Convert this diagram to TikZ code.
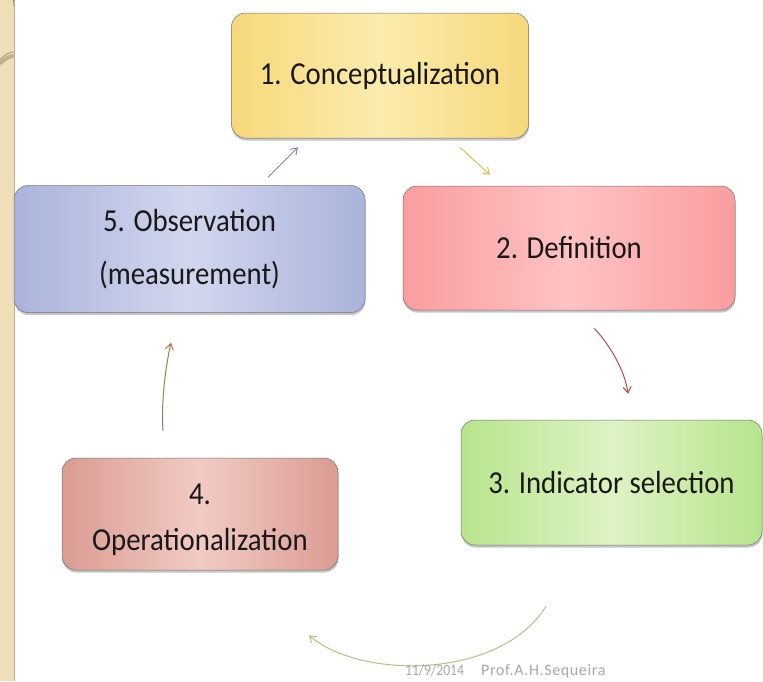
\documentclass[tikz,border=0pt]{standalone}
\usepackage{fontspec}
\setmainfont{Carlito}
\newfontfamily\boxfont[FakeStretch=0.9]{Carlito}
\newfontfamily\footfont[FakeStretch=0.85]{Carlito}
\newfontfamily\footwide[LetterSpace=4]{Carlito}
\usetikzlibrary{arrows.meta,shadows,calc}

\definecolor{stripbg}{HTML}{EFDFB8}
\definecolor{stripline}{HTML}{C2B188}
\definecolor{yelE}{HTML}{F7D87C}
\definecolor{yelM}{HTML}{FBECAC}
\definecolor{redE}{HTML}{FA9D9F}
\definecolor{redM}{HTML}{FFC2C3}
\definecolor{grnE}{HTML}{B8E48D}
\definecolor{grnM}{HTML}{DDF3C4}
\definecolor{salE}{HTML}{DA9C93}
\definecolor{salM}{HTML}{F2CBC4}
\definecolor{bluE}{HTML}{AAB3DB}
\definecolor{bluM}{HTML}{D2D7EE}
\definecolor{arrBlue}{HTML}{7D86B5}
\definecolor{arrYel}{HTML}{E9BD4C}
\definecolor{arrRed}{HTML}{C4474C}
\definecolor{arrGrn}{HTML}{AFC47C}
\definecolor{arrBrn}{HTML}{A7764F}
\definecolor{foot}{HTML}{A8A8A8}

\tikzset{
  stagebox/.style={rectangle, rounded corners=14pt, draw=black!55, line width=0.5pt,
    align=center, inner sep=0pt, text=black!90,
    font=\boxfont\fontsize{32}{53}\selectfont,
    drop shadow={shadow xshift=0.5pt, shadow yshift=-2.5pt, opacity=0.45}},
  stagetext/.style={align=center, inner sep=0pt, text=black!90},
  flow/.style={line width=1pt, -{Straight Barb[length=6pt,width=8pt]}},
  footer/.style={text=foot, anchor=base west, inner sep=0pt},
}

\begin{document}
\begin{tikzpicture}[x=1pt,y=-1pt]
\useasboundingbox (0,0) rectangle (763,681);
\fill[white] (0,0) rectangle (763,681);

% decorative side strip
\fill[stripbg] (0,0) rectangle (14,681);
\begin{scope}
  \clip (0,0) rectangle (14,681);
  \draw[stripline!80!black, line width=1pt] (14,6) arc[start angle=0, end angle=-60, radius=30];
  \draw[stripline, line width=4pt] (0,64) .. controls (5,58) and (10,56) .. (14,56);
  \draw[stripline!90!black, line width=1pt] (0,60) .. controls (5,54) and (10,52) .. (14,52);
\end{scope}
\draw[stripline, line width=1.5pt] (14.5,0) -- (14.5,681);

% stages
\node[stagebox, minimum width=297pt, minimum height=125pt,
      left color=yelE, right color=yelE, middle color=yelM] (b1) at (380,75.5)
      {1. Conceptualization};
\node[stagebox, minimum width=332pt, minimum height=124pt,
      left color=redE, right color=redE, middle color=redM] (b2) at (569,248)
      {2. Definition};
\node[stagebox, minimum width=301pt, minimum height=125pt,
      left color=grnE, right color=grnE, middle color=grnM] (b3) at (611.5,482.5)
      {3. Indicator selection};
\node[stagebox, minimum width=276pt, minimum height=112pt,
      left color=salE, right color=salE, middle color=salM] (b4) at (200,514) {};
\node[stagetext, font=\boxfont\fontsize{32}{46}\selectfont] (b4t) at ([yshift=-6pt]b4.center)
      {4.\\Operationalization};
\node[stagebox, minimum width=351pt, minimum height=127pt,
      left color=bluE, right color=bluE, middle color=bluM] (b5) at (189.5,249)
      {5. Observation\\(measurement)};

% connector end points
\coordinate (s51) at ([xshift=78.5,yshift=8]b5.north);
\coordinate (e51) at ([xshift=-82,yshift=-9]b1.south);
\coordinate (s12) at ([xshift=80,yshift=-9]b1.south);
\coordinate (e12) at ([xshift=-79,yshift=11]b2.north);
\coordinate (s23) at ([xshift=25,yshift=-18]b2.south);
\coordinate (e23) at ([xshift=16.5,yshift=26]b3.north);
\coordinate (s34) at ([xshift=-65.5,yshift=-61]b3.south);
\coordinate (e34) at ([xshift=109,yshift=-65]b4.south);
\coordinate (s45) at ([xshift=-37,yshift=27]b4.north);
\coordinate (e45) at ([xshift=-18.5,yshift=-30]b5.south);

% cycle connectors
\draw[flow, arrBlue] (s51) -- (e51);
\draw[flow, arrYel] (s12) -- (e12);
\draw[flow, arrRed] (s23) .. controls +(14,14) and +(-3,-24) .. (e23);
\draw[flow, arrGrn] (s34) .. controls +(-46,74) and +(51,44) .. (e34);
\draw[flow, arrBrn] (s45) .. controls +(-2,-31) and +(-5,22) .. (e45);

% footer
\node[footer, font=\footfont\fontsize{16}{16}\selectfont] (date) at (405,675) {11/9/2014};
\node[footer, font=\footwide\fontsize{16}{16}\selectfont] (author) at (481,675) {Prof.A.H.Sequeira};
\end{tikzpicture}
\end{document}
